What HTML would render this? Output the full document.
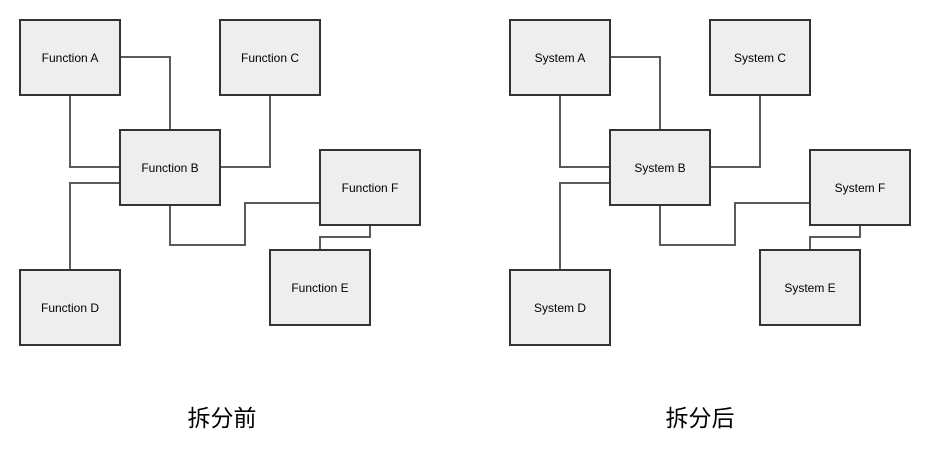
<!DOCTYPE html>
<html><head><meta charset="utf-8"><style>
html,body{margin:0;padding:0;background:#fff;}
svg{display:block}
text{font-family:"Liberation Sans",Arial,sans-serif;font-size:12px;fill:#000}
.c{font-family:"Liberation Sans","Noto Sans CJK SC",sans-serif;font-size:23px}
</style></head><body>
<svg width="936" height="452" viewBox="0 0 936 452" xmlns="http://www.w3.org/2000/svg">
<defs>
<g id="lines" fill="none" stroke="#5a5a5a" stroke-width="2">
<polyline points="120,57 170,57 170,130"/>
<polyline points="70,95 70,167 120,167"/>
<polyline points="270,95 270,167 220,167"/>
<polyline points="70,270 70,183 120,183"/>
<polyline points="170,205 170,245 245,245 245,203 320,203"/>
<polyline points="370,225 370,237 320,237 320,250"/>
</g>
<g id="boxes" fill="#eeeeee" stroke="#333" stroke-width="2">
<rect x="20" y="20" width="100" height="75"/>
<rect x="220" y="20" width="100" height="75"/>
<rect x="120" y="130" width="100" height="75"/>
<rect x="320" y="150" width="100" height="75"/>
<rect x="270" y="250" width="100" height="75"/>
<rect x="20" y="270" width="100" height="75"/>
</g>
</defs>
<use href="#lines"/><use href="#boxes"/>
<g transform="translate(490,0)"><use href="#lines"/><use href="#boxes"/></g>
<g text-anchor="middle">
<text x="70" y="62">Function A</text>
<text x="270" y="62">Function C</text>
<text x="170" y="172">Function B</text>
<text x="370" y="192">Function F</text>
<text x="320" y="292">Function E</text>
<text x="70" y="312">Function D</text>
<text x="560" y="62">System A</text>
<text x="760" y="62">System C</text>
<text x="660" y="172">System B</text>
<text x="860" y="192">System F</text>
<text x="810" y="292">System E</text>
<text x="560" y="312">System D</text>
<text class="c" x="222" y="426">拆分前</text>
<text class="c" x="700" y="426">拆分后</text>
</g>
</svg>
</body></html>
